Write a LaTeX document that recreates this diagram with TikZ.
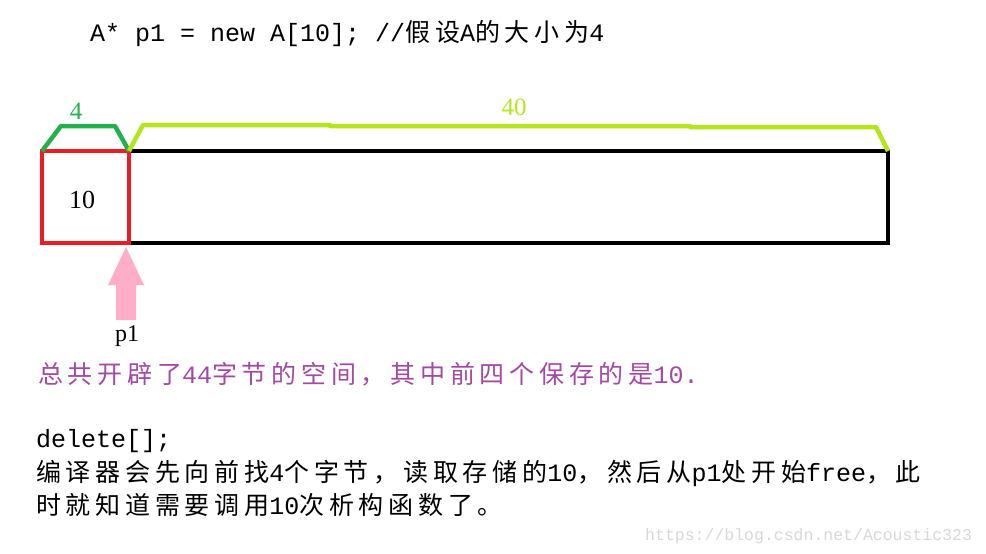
\documentclass[tikz,border=0pt]{standalone}
\usepackage{fontspec}
\setmainfont{Liberation Serif}
\newfontfamily\cjk[LetterSpace=19]{Noto Sans CJK SC}
\newfontfamily\mono{Liberation Mono}
\definecolor{boxred}{RGB}{237,28,36}
\definecolor{braceg}{RGB}{34,177,76}
\definecolor{bracel}{RGB}{181,230,29}
\definecolor{arrowpink}{RGB}{255,174,201}
\definecolor{txtpurple}{RGB}{163,73,164}
\definecolor{wmgray}{RGB}{216,216,216}
\tikzset{
  codeline/.style={anchor=base west, inner sep=0pt, font=\fontsize{25}{28}\selectfont},
  numlabel/.style={anchor=base, inner sep=0pt, font=\fontsize{26}{30}\selectfont},
  brace/.style={line width=4.5pt, line join=round},
}
\newcommand{\zh}[1]{{\cjk\fontsize{25}{28}\selectfont #1}}
\newcommand{\mn}[1]{{\mono #1}}
\begin{document}
\begin{tikzpicture}[x=1pt,y=-1pt]
\useasboundingbox[fill=white] (0,0) rectangle (986,554);
% header code line
\node[codeline] (code) at (90,41) {\mn{A* p1 = new A[10]; //}\zh{假设}\mn{A}\zh{的大小为}\mn{4}};
% memory block
\coordinate (tl) at (42,151);
\coordinate (br) at (888,243);
\coordinate (mid) at (129,151);
\coordinate (midb) at (129,243);
\draw[line width=4.5pt] (tl) rectangle (br);
\draw[line width=4.5pt, boxred] (tl) rectangle (midb);
\node[numlabel] (ten) at (82,208) {10};
% braces
\draw[brace, braceg] (tl) -- (61,126) -- (115,126) -- (mid);
\node[numlabel, braceg, font=\fontsize{25}{30}\selectfont] (four) at (76,119) {4};
\draw[brace, bracel] (mid) -- (143,125) -- (330,125) -- (330,126) -- (690,126) -- (690,127) -- (876,127) -- (888,151);
\node[numlabel, bracel, font=\fontsize{25}{30}\selectfont] (forty) at (514,115) {40};
% pink arrow
\coordinate (tip) at (126,247);
\fill[arrowpink] (tip) -- (144,285) -- (136,285) -- (136,320) -- (116,320) -- (116,285) -- (108,285) -- cycle;
\node[numlabel, font=\fontsize{24}{28}\selectfont] (p1) at (127,341) {p1};
% purple note
\node[codeline, txtpurple] (note) at (38,383) {\zh{总共开辟了}\mn{44}\zh{字节的空间，其中前四个保存的是}\mn{10.}};
% bottom explanation
\node[codeline] (del) at (36,447) {\mn{delete[];}};
\node[codeline] (l2) at (36,481) {\zh{编译器会先向前找}\mn{4}\zh{个字节，读取存储的}\mn{10}\zh{，然后从}\mn{p1}\zh{处开始}\mn{free}\zh{，此}};
\node[codeline] (l3) at (36,514) {\zh{时就知道需要调用}\mn{10}\zh{次析构函数了。}};
% watermark
\node[anchor=base west, inner sep=0pt, wmgray, font=\mono\fontsize{16.5}{20}\selectfont] (wm) at (645,540) {https://blog.csdn.net/Acoustic323};
\end{tikzpicture}
\end{document}
